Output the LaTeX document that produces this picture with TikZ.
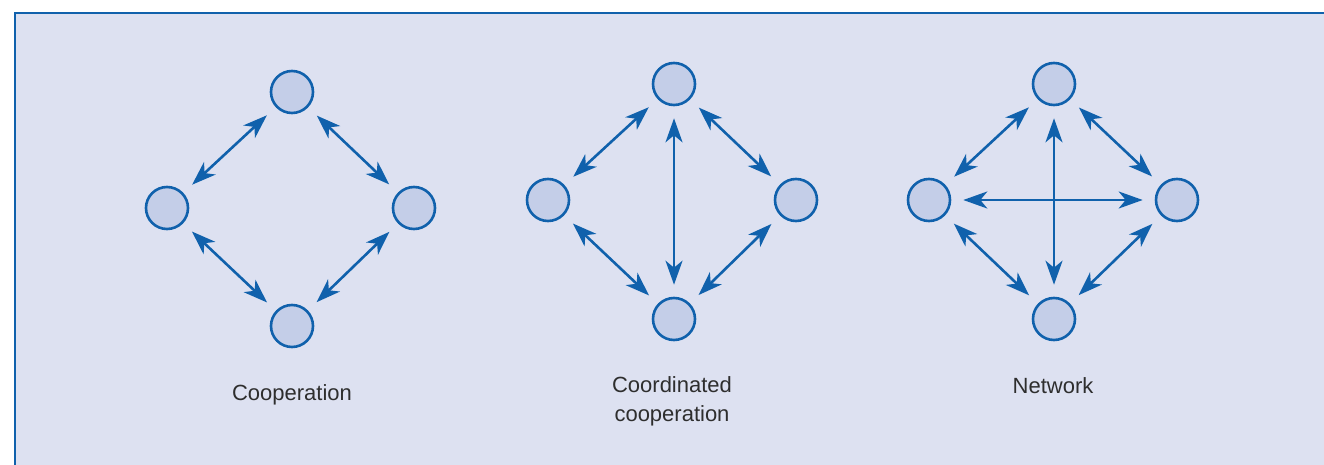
\documentclass[tikz,border=0pt]{standalone}
\usepackage{fontspec}
\setmainfont{Liberation Sans}
\usetikzlibrary{arrows.meta}
\definecolor{frameblue}{HTML}{1061AC}
\definecolor{panelfill}{HTML}{DDE1F1}
\definecolor{dotfill}{HTML}{C4CEE8}
\definecolor{labelgray}{HTML}{2E2E2E}
\begin{document}
\begin{tikzpicture}[x=1pt,y=-1pt]

    \tikzset{
      agent/.style={
        circle,
        draw=frameblue,
        fill=dotfill,
        line width=2.6pt,
        inner sep=0pt,
        minimum size=42pt,
      },
      link/.style={
        draw=frameblue,
        line width=2.6pt,
        {Stealth[length=24pt,width=17pt,inset=7pt]}-{Stealth[length=24pt,width=17pt,inset=7pt]},
        shorten <=12pt,
        shorten >=12pt,
      },
      caption/.style={
        text=labelgray,
        align=center,
        font=\fontsize{22}{29}\selectfont,
      },
    }
    \useasboundingbox (0,0) rectangle (1324,465);
    \clip (0,0) rectangle (1324,465);
    \draw[frameblue,fill=panelfill,line width=2.6pt] (15,13) rectangle (1340,480);

	\node[agent] (coopT) at (292,92) {};
	\node[agent] (coopL) at (167,208) {};
	\node[agent] (coopR) at (414,208) {};
	\node[agent] (coopB) at (292,326) {};
	\draw[link] (coopL) -- (coopT);
	\draw[link] (coopT) -- (coopR);
	\draw[link] (coopL) -- (coopB);
	\draw[link] (coopB) -- (coopR);
	\node[caption] (coopText) at (292,395) {Cooperation};

	\node[agent] (coordT) at (674,84) {};
	\node[agent] (coordL) at (548,200) {};
	\node[agent] (coordR) at (796,200) {};
	\node[agent] (coordB) at (674,319) {};
	\draw[link] (coordL) -- (coordT);
	\draw[link] (coordT) -- (coordR);
	\draw[link] (coordL) -- (coordB);
	\draw[link] (coordB) -- (coordR);
	\draw[link] (coordT) -- (coordB);
	\node[caption] (coordText) at (672,401) {Coordinated\\cooperation};

	\node[agent] (netT) at (1054,84) {};
	\node[agent] (netL) at (929,200) {};
	\node[agent] (netR) at (1177,200) {};
	\node[agent] (netB) at (1054,319) {};
	\draw[link] (netL) -- (netT);
	\draw[link] (netT) -- (netR);
	\draw[link] (netL) -- (netB);
	\draw[link] (netB) -- (netR);
	\draw[link] (netT) -- (netB);
	\draw[link] (netL) -- (netR);
	\node[caption] (netText) at (1053,386) {Network};

\end{tikzpicture}
\end{document}
